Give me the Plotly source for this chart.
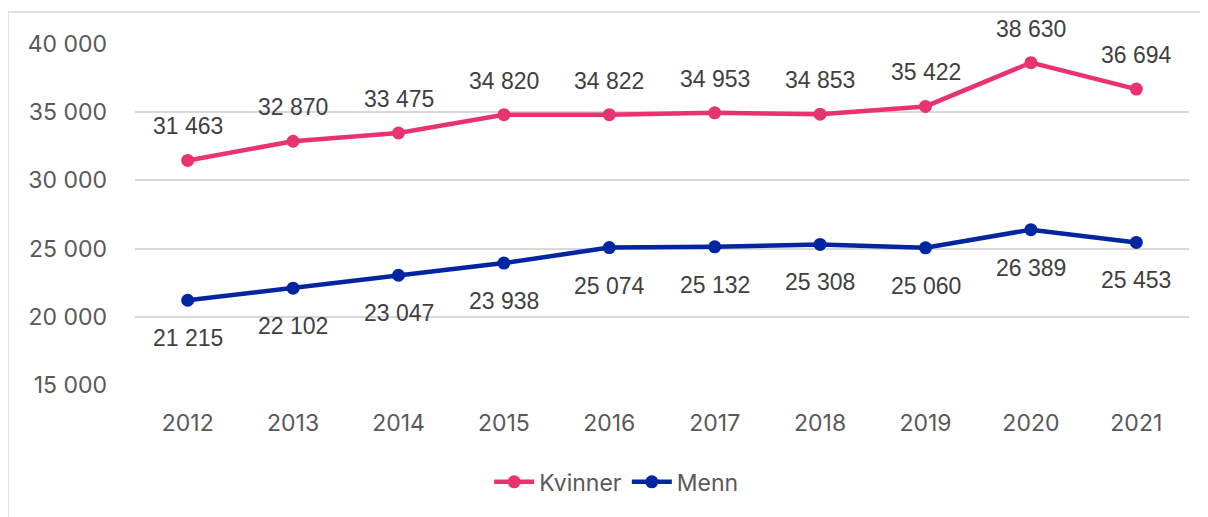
import plotly.graph_objects as go

years = ["2012", "2013", "2014", "2015", "2016", "2017", "2018", "2019", "2020", "2021"]
kvinner = [31463, 32870, 33475, 34820, 34822, 34953, 34853, 35422, 38630, 36694]
menn = [21215, 22102, 23047, 23938, 25074, 25132, 25308, 25060, 26389, 25453]
y_ticks = [15000, 20000, 25000, 30000, 35000, 40000]

PINK = "#E8336F"
BLUE = "#0025A0"
GRAY = "#595959"
AXIS_FONT = "Inter"
LABEL_FONT = "Liberation Sans"

def fmt(v):
    return f"{v:,}".replace(",", " ")

fig = go.Figure()
fig.add_trace(go.Scatter(x=years, y=kvinner, name="Kvinner", mode="lines+markers",
                         line=dict(color=PINK, width=4.5), marker=dict(size=13, color=PINK)))
fig.add_trace(go.Scatter(x=years, y=menn, name="Menn", mode="lines+markers",
                         line=dict(color=BLUE, width=4.5), marker=dict(size=13, color=BLUE)))

annotations = []
for i, v in enumerate(kvinner):
    annotations.append(dict(x=i, y=v, xref="x", yref="y", text=fmt(v), showarrow=False, yshift=34,
                            font=dict(family=LABEL_FONT, size=23, color="#404040")))
for i, v in enumerate(menn):
    annotations.append(dict(x=i, y=v, xref="x", yref="y", text=fmt(v), showarrow=False, yshift=-38,
                            font=dict(family=LABEL_FONT, size=23, color="#404040")))

border = dict(color="#D9D9D9", width=1.5)
fig.update_layout(
    width=1208, height=517,
    margin=dict(l=127, r=27, t=36, b=140),
    paper_bgcolor="white", plot_bgcolor="white",
    showlegend=True,
    legend=dict(orientation="h", x=0.457, xanchor="center", y=-0.284, yanchor="middle",
                font=dict(family=AXIS_FONT, size=23, color=GRAY), itemwidth=40),
    xaxis=dict(type="category", range=[-0.5, 9.5], autorange=False, showgrid=False, showline=False, ticks="",
               tickfont=dict(family=AXIS_FONT, size=23, color=GRAY), ticklabelstandoff=22),
    yaxis=dict(range=[15000, 40000], tickvals=y_ticks, ticktext=[fmt(t) for t in y_ticks],
               showgrid=True, gridcolor="#D9D9D9", gridwidth=1.5, zeroline=False,
               tickfont=dict(family=AXIS_FONT, size=23, color=GRAY), ticklabelstandoff=27),
    annotations=annotations,
    shapes=[
        dict(type="line", xref="paper", yref="paper", x0=-0.1205, x1=1.3, y0=1.0938, y1=1.0938,
             line=border, layer="below"),
        dict(type="line", xref="paper", yref="paper", x0=-0.1205, x1=-0.1205, y0=-0.6, y1=1.0938,
             line=border, layer="below"),
    ],
)

fig.write_html("out.html")
